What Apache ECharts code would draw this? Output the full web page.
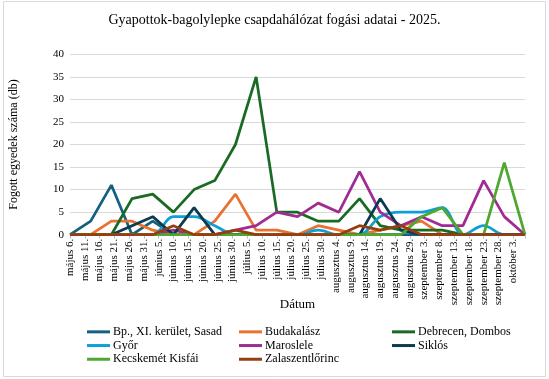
<!DOCTYPE html>
<html>
<head>
<meta charset="utf-8">
<script src="https://cdn.jsdelivr.net/npm/echarts@6/dist/echarts.min.js"></script>
<style>
html,body{margin:0;padding:0;background:#fff;}
#chart{width:549px;height:379px;}
</style>
</head>
<body>
<div id="chart"></div>
<script>
const titleText = 'Gyapottok-bagolylepke csapdahálózat fogási adatai - 2025.';
const yAxisTitle = 'Fogott egyedek száma (db)';
const xAxisTitle = 'Dátum';

const tickLabels = ['május 6.','május 11.','május 16.','május 21.','május 26.','május 31.',
  'június 5.','június 10.','június 15.','június 20.','június 25.','június 30.',
  'július 5.','július 10.','július 15.','július 20.','július 25.','július 30.',
  'augusztus 4.','augusztus 9.','augusztus 14.','augusztus 19.','augusztus 24.','augusztus 29.',
  'szeptember 3.','szeptember 8.','szeptember 13.','szeptember 18.','szeptember 23.','szeptember 28.',
  'október 3.'];

const sampleDates = ['2025-05-06','2025-05-13','2025-05-20','2025-05-27','2025-06-03','2025-06-10',
  '2025-06-17','2025-06-24','2025-07-01','2025-07-08','2025-07-15','2025-07-22','2025-07-29',
  '2025-08-05','2025-08-12','2025-08-19','2025-08-26','2025-09-02','2025-09-09','2025-09-16',
  '2025-09-23','2025-09-30','2025-10-07'];

const seriesNames = ['Bp., XI. kerület, Sasad','Budakalász','Debrecen, Dombos','Győr','Maroslele','Siklós','Kecskemét Kisfái','Zalaszentlőrinc'];

const bp        = [0,3,11,0,3,0,0,0,0,0,0,0,0,0,0,0,0,0,0,0,0,0,0];
const budakalasz= [0,0,3,3,1,0,0,3,9,1,1,0,2,1,0,1,2,3,0,0,0,0,0];
const debrecen  = [0,0,0,8,9,5,10,12,20,35,5,5,3,3,8,2,1,1,1,0,0,0,0];
const gyor      = [0,0,0,0,0,4,4,2,0,0,0,0,1,0,0,4,5,5,6,0,2,0,0];
const maroslele = [0,0,0,0,0,1,0,0,1,2,5,4,7,5,14,5,2,4,2,2,12,4,0];
const siklos    = [0,0,0,2,4,0,6,0,0,0,0,0,0,0,0,8,1,0,0,0,0,0,0];
const kecskemet = [0,0,0,0,0,0,0,0,0,0,0,0,0,0,0,0,0,4,6,0,0,16,0];
const zala      = [0,0,0,0,0,2,0,0,1,0,0,0,0,0,2,1,2,0,0,0,0,0,0];

const seriesValues = [bp,budakalasz,debrecen,gyor,maroslele,siklos,kecskemet,zala];
const colors = ['#156082','#E97132','#196B24','#0F9ED5','#A02B93','#0C3A50','#4EA72E','#953E10'];

const FONT = 'Liberation Serif';
const day0 = Date.UTC(2025,4,6);
function dayOffset(s){ const p=s.split('-'); return Math.round((Date.UTC(+p[0],+p[1]-1,+p[2])-day0)/86400000); }
const xs = sampleDates.map(dayOffset);
const xMax = xs[xs.length-1];

const series = seriesNames.map((n,i)=>({
  name:n, type:'line', symbol:'none', smooth: i===3 ? 0.35 : false,
  lineStyle:{width:2.75,color:colors[i]}, itemStyle:{color:colors[i]},
  data: seriesValues[i].map((v,k)=>[xs[k],v]), z: 2+i
}));

function legendCol(names,left){
  return {data:names, orient:'vertical', left:left, top:320, icon:'rect', itemWidth:23, itemHeight:3, itemGap:0,
    textStyle:{fontFamily:FONT,fontSize:12,color:'#000',lineHeight:13.7,padding:[0,0,0,-2]}, selectedMode:false};
}

const chart = echarts.init(document.getElementById('chart'),null,{renderer:'canvas'});
chart.setOption({
  animation:false,
  color:colors,
  title:{text:titleText,left:'center',top:8,textStyle:{fontFamily:FONT,fontSize:14,fontWeight:'normal',color:'#000'}},
  grid:{left:67,right:24,top:54.3,bottom:144.3,containLabel:false},
  xAxis:{type:'value',min:0,max:xMax,interval:5,
    name:xAxisTitle,nameLocation:'middle',nameGap:63,nameMoveOverlap:false,nameTextStyle:{fontFamily:FONT,fontSize:13,color:'#000'},
    axisLine:{show:true,lineStyle:{color:'#d9d9d9',width:1}},
    axisTick:{show:true,length:4,lineStyle:{color:'#bfbfbf'}},
    splitLine:{show:false},
    axisLabel:{rotate:90,margin:4,fontFamily:FONT,fontSize:11,color:'#000',showMaxLabel:true,
      formatter:function(v){ const i=Math.round(v/5); return (Math.abs(v-i*5)<1e-6 && i<tickLabels.length)?tickLabels[i]:''; }}
  },
  yAxis:{type:'value',min:0,max:40,interval:5,
    name:yAxisTitle,nameLocation:'middle',nameGap:50,nameRotate:90,nameTextStyle:{fontFamily:FONT,fontSize:12,color:'#000'},
    axisLine:{show:false},axisTick:{show:false},
    splitLine:{lineStyle:{color:'#d9d9d9',width:1}},
    axisLabel:{margin:6,fontFamily:FONT,fontSize:11,color:'#000'}
  },
  legend:[
    legendCol([seriesNames[0],seriesNames[3],seriesNames[6]],82),
    legendCol([seriesNames[1],seriesNames[4],seriesNames[7]],234),
    legendCol([seriesNames[2],seriesNames[5]],387)
  ],
  graphic:[{type:'rect',shape:{x:3.5,y:1.5,width:542,height:375},style:{fill:'none',stroke:'#d9d9d9',lineWidth:1},silent:true}],
  series:series
});
</script>
</body>
</html>
